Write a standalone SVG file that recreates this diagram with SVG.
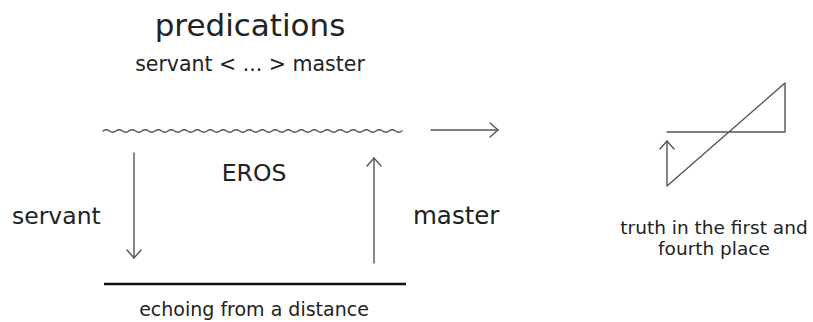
<svg xmlns="http://www.w3.org/2000/svg" width="813" height="322" viewBox="0 0 813 322">
<defs>
<style>
text{font-family:"DejaVu Sans","Liberation Sans",sans-serif;fill:#222;}
.ln{fill:none;stroke:#555;stroke-width:1.4;stroke-linecap:round;stroke-linejoin:round;}
</style>
<marker id="ah" viewBox="-10 -8 12 16" markerWidth="12" markerHeight="16" refX="0" refY="0" orient="auto" markerUnits="userSpaceOnUse">
<path d="M-8,-7 L0,0 L-8,7" fill="none" stroke="#555" stroke-width="1.4" stroke-linecap="round"/>
</marker>
</defs>
<rect width="813" height="322" fill="#fff"/>
<g id="title">
<text x="250" y="36" font-size="31" text-anchor="middle">predications</text>
<text x="250" y="71" font-size="20.5" text-anchor="middle">servant &lt; ... &gt; master</text>
</g>
<g id="eros">
<path class="ln" d="M103,131 q3.25,-2.6 6.5,0 t6.5,0 t6.5,0 t6.5,0 t6.5,0 t6.5,0 t6.5,0 t6.5,0 t6.5,0 t6.5,0 t6.5,0 t6.5,0 t6.5,0 t6.5,0 t6.5,0 t6.5,0 t6.5,0 t6.5,0 t6.5,0 t6.5,0 t6.5,0 t6.5,0 t6.5,0 t6.5,0 t6.5,0 t6.5,0 t6.5,0 t6.5,0 t6.5,0 t6.5,0 t6.5,0 t6.5,0 t6.5,0 t6.5,0 t6.5,0 t6.5,0 t6.5,0 t6.5,0 t6.5,0 t6.5,0 t6.5,0 t6.5,0 t6.5,0 t6.5,0 t6.5,0 t6.5,0"/>
<text x="254" y="181" font-size="23.5" text-anchor="middle">EROS</text>
</g>
<g id="servant">
<text x="12" y="224" font-size="23.5">servant</text>
</g>
<g id="master">
<text x="413" y="224" font-size="24.5">master</text>
</g>
<g id="echo">
<line x1="104" y1="284" x2="406" y2="284" stroke="#111" stroke-width="2.6"/>
<text x="254" y="316" font-size="19" text-anchor="middle">echoing from a distance</text>
</g>
<g id="truth">
<path class="ln" d="M667,132 L785,132 L785,83 L667,186 L667,141" marker-end="url(#ah)"/>
<text x="714" y="234" font-size="18.5" text-anchor="middle">truth in the first and</text>
<text x="714" y="255" font-size="18.5" text-anchor="middle">fourth place</text>
</g>
<g id="connectors">
<line class="ln" x1="431" y1="130" x2="498" y2="130" marker-end="url(#ah)"/>
<line class="ln" x1="134" y1="153" x2="134" y2="258" marker-end="url(#ah)"/>
<line class="ln" x1="374" y1="263" x2="374" y2="158" marker-end="url(#ah)"/>
</g>
</svg>
